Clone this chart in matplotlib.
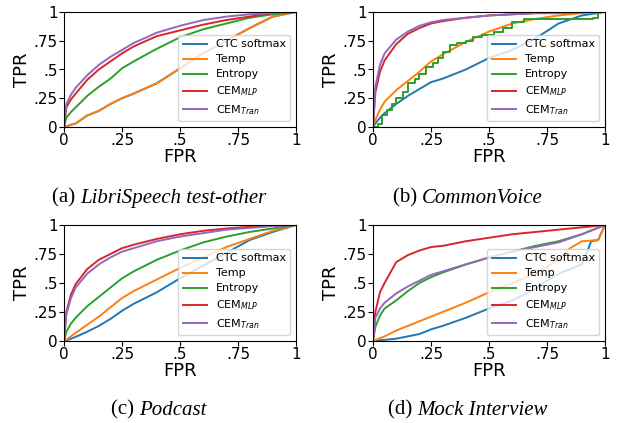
import numpy as np
import matplotlib
matplotlib.use("Agg")
import matplotlib.pyplot as plt
from matplotlib.offsetbox import TextArea, HPacker, AnchoredOffsetbox

# common FPR grid used by most curves
grid = [0, .01, .03, .05, .1, .15, .2, .25, .3, .4, .5, .6, .7, .8, .9, 1]

# (a) LibriSpeech test-other
a_ctc = [0, .005, .02, .03, .1, .14, .2, .25, .29, .38, .51, .64, .75, .86, .96, 1]
a_temp = [0, .005, .02, .03, .1, .14, .2, .25, .29, .38, .51, .64, .75, .86, .96, 1]
a_ent = [0, .08, .13, .17, .27, .35, .42, .51, .57, .68, .78, .85, .9, .95, .98, 1]
a_mlp = [0, .17, .24, .29, .41, .5, .57, .64, .7, .79, .84, .89, .93, .96, .99, 1]
a_tran = [0, .2, .28, .34, .45, .54, .61, .67, .73, .82, .88, .93, .96, .98, .99, 1]

# (b) CommonVoice
b_ctc = [0, .03, .08, .12, .2, .27, .33, .39, .42, .5, .6, .67, .77, .9, .97, 1]
b_temp = [0, .06, .15, .22, .32, .4, .48, .57, .63, .74, .83, .9, .94, .97, .99, 1]
b_ent_x = [0, .02, .04, .06, .08, .10, .13, .15, .18, .2, .23, .26, .28, .3, .33,
           .36, .4, .43, .47, .52, .56, .6, .65, .95, .97, 1]
b_ent_y = [0, .03, .1, .15, .2, .25, .3, .38, .42, .46, .52, .56, .6, .65, .71,
           .73, .75, .78, .8, .83, .86, .91, .94, .95, 1, 1]
b_mlp = [0, .3, .48, .58, .72, .81, .86, .9, .92, .95, .97, .98, .99, .99, 1, 1]
b_tran = [0, .35, .54, .64, .76, .83, .88, .91, .93, .95, .97, .98, .99, .99, 1, 1]

# (c) Podcast
c_ctc = [0, .005, .02, .035, .08, .13, .19, .26, .32, .42, .54, .65, .76, .87, .94, 1]
c_temp = [0, .01, .04, .07, .14, .21, .29, .37, .43, .53, .63, .72, .81, .88, .95, 1]
c_ent = [0, .08, .15, .2, .3, .38, .46, .54, .6, .7, .78, .85, .9, .94, .97, 1]
c_mlp = [0, .25, .4, .49, .62, .7, .75, .8, .83, .88, .92, .95, .97, .985, .995, 1]
c_tran = [0, .23, .37, .46, .58, .66, .72, .77, .8, .86, .9, .93, .96, .975, .99, 1]

# (d) Mock Interview
d_ctc_x = [0, .1, .2, .25, .3, .4, .5, .6, .7, .75, .8, .85, .9, .92, .94, .97, 1]
d_ctc_y = [0, .02, .06, .1, .13, .2, .28, .35, .45, .52, .58, .62, .66, .75, .86, .87, 1]
d_temp_x = [0, .05, .1, .15, .2, .25, .3, .4, .5, .6, .7, .75, .8, .85, .9, .97, 1]
d_temp_y = [0, .04, .09, .13, .17, .21, .25, .33, .42, .5, .58, .64, .7, .8, .86, .87, 1]
d_ent = [0, .12, .22, .28, .35, .43, .5, .55, .59, .66, .72, .77, .82, .86, .92, 1]
d_mlp = [0, .25, .42, .5, .68, .74, .78, .81, .82, .86, .89, .92, .94, .96, .98, 1]
d_tran = [0, .2, .28, .33, .41, .47, .52, .57, .6, .66, .72, .77, .81, .85, .92, 1]

labels = ["CTC softmax", "Temp", "Entropy", r"CEM$_{MLP}$", r"CEM$_{Tran}$"]
ticks = [0, .25, .5, .75, 1]
ticklabels = ["0", ".25", ".5", ".75", "1"]

panels = [
    ("(a) ", "LibriSpeech test-other",
     [(grid, a_ctc), (grid, a_temp), (grid, a_ent), (grid, a_mlp), (grid, a_tran)], False),
    ("(b) ", "CommonVoice",
     [(grid, b_ctc), (grid, b_temp), (b_ent_x, b_ent_y), (grid, b_mlp), (grid, b_tran)], True),
    ("(c) ", "Podcast",
     [(grid, c_ctc), (grid, c_temp), (grid, c_ent), (grid, c_mlp), (grid, c_tran)], False),
    ("(d) ", "Mock Interview",
     [(d_ctc_x, d_ctc_y), (d_temp_x, d_temp_y), (grid, d_ent), (grid, d_mlp), (grid, d_tran)], False),
]

W, H = 619, 423
fig = plt.figure(figsize=(W / 100, H / 100), dpi=100)

# axes boxes in pixels: left, top, right, bottom
boxes = [(64, 12, 296, 127), (373, 12, 605, 127),
         (64, 225, 296, 341), (373, 225, 605, 341)]
caption_y = [198, 198, 410, 410]

for i, (pre, name, curves, step_ent) in enumerate(panels):
    l, t, r, b = boxes[i]
    ax = fig.add_axes([l / W, 1 - b / H, (r - l) / W, (b - t) / H])
    for j, (xs, ys) in enumerate(curves):
        ds = "steps-post" if (step_ent and j == 2) else "default"
        ax.plot(xs, ys, color=f"C{j}", lw=1.4, label=labels[j], drawstyle=ds)
    ax.set_xlim(0, 1)
    ax.set_ylim(0, 1)
    ax.set_xticks(ticks)
    ax.set_xticklabels(ticklabels)
    ax.set_yticks(ticks)
    ax.set_yticklabels(ticklabels)
    ax.tick_params(labelsize=11, pad=1)
    ax.set_xlabel("FPR", fontsize=13, labelpad=0)
    ax.set_ylabel("TPR", fontsize=13, labelpad=2)
    ax.legend(loc="lower right", fontsize=8, handlelength=2.2, borderpad=0.4,
              labelspacing=0.45)

    # caption: regular prefix + italic name, centred
    p1 = TextArea(pre, textprops=dict(family="Liberation Serif", fontsize=15))
    p2 = TextArea(name, textprops=dict(family="Liberation Serif", fontsize=15,
                                       style="italic"))
    box = HPacker(children=[p1, p2], align="baseline", pad=0, sep=0)
    cx = ((l + r) / 2 - 21) / W
    cy = 1 - caption_y[i] / H
    anc = AnchoredOffsetbox(loc="center", child=box, pad=0, frameon=False,
                            bbox_to_anchor=(cx, cy),
                            bbox_transform=fig.transFigure, borderpad=0)
    fig.add_artist(anc)

fig.savefig("out.png", dpi=100)
